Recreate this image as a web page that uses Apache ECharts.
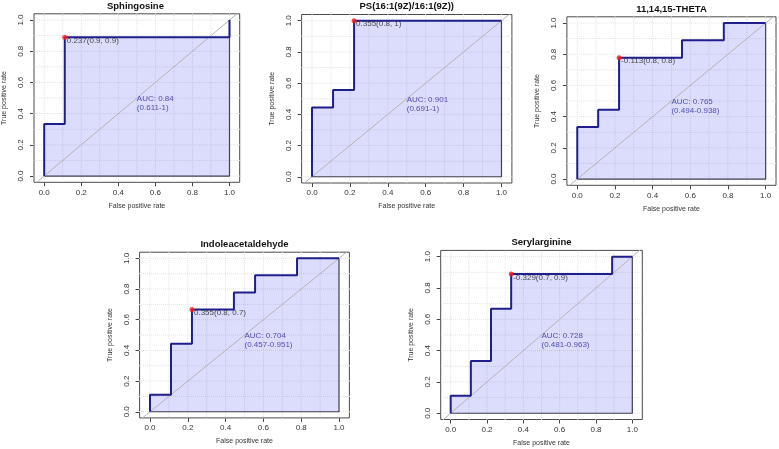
<!DOCTYPE html>
<html>
<head>
<meta charset="utf-8">
<script src="https://cdn.jsdelivr.net/npm/echarts@6/dist/echarts.min.js"></script>
<style>html,body{margin:0;padding:0;background:#fff}#c{width:779px;height:449px}</style>
</head>
<body>
<div id="c"></div>
<script>
// ---- data ----
const titles = ['Sphingosine', 'PS(16:1(9Z)/16:1(9Z))', '11,14,15-THETA', 'Indoleacetaldehyde', 'Serylarginine'];
const fpr1 = [0, 0, 0.111, 0.111, 1, 1];
const tpr1 = [0, 0.333, 0.333, 0.889, 0.889, 1];
const fpr2 = [0, 0, 0.111, 0.111, 0.222, 0.222, 1];
const tpr2 = [0, 0.444, 0.444, 0.556, 0.556, 1, 1];
const fpr3 = [0, 0, 0.111, 0.111, 0.222, 0.222, 0.556, 0.556, 0.778, 0.778, 1];
const tpr3 = [0, 0.333, 0.333, 0.444, 0.444, 0.778, 0.778, 0.889, 0.889, 1, 1];
const fpr4 = [0, 0, 0.111, 0.111, 0.222, 0.222, 0.444, 0.444, 0.556, 0.556, 0.778, 0.778, 1];
const tpr4 = [0, 0.111, 0.111, 0.444, 0.444, 0.667, 0.667, 0.778, 0.778, 0.889, 0.889, 1, 1];
const fpr5 = [0, 0, 0.111, 0.111, 0.222, 0.222, 0.333, 0.333, 0.889, 0.889, 1];
const tpr5 = [0, 0.111, 0.111, 0.333, 0.333, 0.667, 0.667, 0.889, 0.889, 1, 1];
const bestFpr = [0.111, 0.222, 0.222, 0.222, 0.333];
const bestTpr = [0.889, 1, 0.778, 0.667, 0.889];
const bestLabels = ['0.237(0.9, 0.9)', '0.355(0.8, 1)', '-0.113(0.8, 0.8)', '0.355(0.8, 0.7)', '-0.329(0.7, 0.9)'];
const aucLabels = ['AUC: 0.84', 'AUC: 0.901', 'AUC: 0.765', 'AUC: 0.704', 'AUC: 0.728'];
const ciLabels = ['(0.611-1)', '(0.691-1)', '(0.494-0.938)', '(0.457-0.951)', '(0.481-0.963)'];
const tickVals = [0, 0.2, 0.4, 0.6, 0.8, 1];
const gridVals = [0, 0.1, 0.2, 0.3, 0.4, 0.5, 0.6, 0.7, 0.8, 0.9, 1];
const xName = 'False positive rate';
const yName = 'True positive rate';

// ---- layout ----
const FONT = 'Liberation Sans, Arial, Helvetica, sans-serif';
const rects = [
  {left: 31.2, top: 13.8, width: 208.5, height: 168.5},
  {left: 301.6, top: 14.5, width: 210.3, height: 168.5},
  {left: 566.9, top: 16.8, width: 209.1, height: 168.5},
  {left: 139.6, top: 252.2, width: 209.8, height: 165.7},
  {left: 440.7, top: 250.4, width: 201.6, height: 169.1}
];
const XPAD = 0.055, YPAD = 0.04;
const fprs = [fpr1, fpr2, fpr3, fpr4, fpr5];
const tprs = [tpr1, tpr2, tpr3, tpr4, tpr5];

// grid line data with gaps between lines
const gridLineData = [];
gridVals.forEach(v => { gridLineData.push([v, -1], [v, 2], ['-', '-']); });
gridVals.forEach(v => { gridLineData.push([-1, v], [2, v], ['-', '-']); });

const grid = [], xAxis = [], yAxis = [], series = [], graphic = [];
rects.forEach((r, i) => {
  grid.push(Object.assign({show: true, borderColor: '#4a4a4a', borderWidth: 1, backgroundColor: 'transparent', containLabel: false}, r));
  const common = {
    gridIndex: i, type: 'value', nameLocation: 'middle',
    nameTextStyle: {fontSize: 7, color: '#333', fontFamily: FONT},
    axisLine: {show: false, onZero: false},
    axisTick: {show: true, customValues: tickVals, length: 4, lineStyle: {color: '#444', width: 1}},
    axisLabel: {customValues: tickVals, formatter: v => v.toFixed(1), fontSize: 8, color: '#333', fontFamily: FONT},
    splitLine: {show: false}
  };
  xAxis.push(Object.assign({}, common, {min: -XPAD, max: 1 + XPAD, name: xName, nameGap: 20, position: 'bottom',
    axisLabel: Object.assign({}, common.axisLabel, {margin: 6})}));
  yAxis.push(Object.assign({}, common, {min: -YPAD, max: 1 + YPAD, name: yName, nameGap: 26, nameRotate: 90, position: 'left',
    axisLabel: Object.assign({}, common.axisLabel, {margin: 9, rotate: 90})}));
  const pts = fprs[i].map((x, k) => [x, tprs[i][k]]);
  // grid lines
  series.push({type: 'line', xAxisIndex: i, yAxisIndex: i, data: gridLineData, z: 1, silent: true, symbol: 'none',
    clip: true, connectNulls: false, lineStyle: {color: '#e2e2e2', type: 'dotted', width: 1}});
  // filled area
  series.push({type: 'line', xAxisIndex: i, yAxisIndex: i, data: pts, symbol: 'none', z: 2, silent: true,
    lineStyle: {width: 0}, areaStyle: {color: 'rgba(60,60,240,0.18)', opacity: 1}});
  // polygon border (bottom and right edges)
  series.push({type: 'line', xAxisIndex: i, yAxisIndex: i, data: [[0, 0], [1, 0], [1, 1]], symbol: 'none', z: 3, silent: true,
    lineStyle: {color: '#404050', width: 1.2}});
  // diagonal
  series.push({type: 'line', xAxisIndex: i, yAxisIndex: i, data: [[-0.2, -0.2], [1.2, 1.2]], symbol: 'none', z: 3, clip: true, silent: true,
    lineStyle: {color: '#b4b4b4', width: 1}});
  // ROC curve
  series.push({type: 'line', xAxisIndex: i, yAxisIndex: i, data: pts, symbol: 'none', z: 4, silent: true,
    lineStyle: {color: '#1e1e8c', width: 2}});
  // best threshold point
  series.push({type: 'scatter', xAxisIndex: i, yAxisIndex: i, data: [[bestFpr[i], bestTpr[i]]], z: 5, symbolSize: 5, silent: true,
    itemStyle: {color: '#ff1a1a'},
    label: {show: true, formatter: bestLabels[i], position: [4.5, 2], align: 'left', verticalAlign: 'top',
      fontSize: 8, color: '#222', fontFamily: FONT}});
  // AUC text
  series.push({type: 'scatter', xAxisIndex: i, yAxisIndex: i, data: [[0.5, 0.465]], z: 5, symbolSize: 0, silent: true,
    label: {show: true, formatter: aucLabels[i] + '\n' + ciLabels[i], position: [0, 0], align: 'left', verticalAlign: 'middle',
      fontSize: 8, lineHeight: 8.5, color: '#2a2a9a', fontFamily: FONT}});
  graphic.push({type: 'text', x: r.left + r.width / 2, y: r.top - 7.7, silent: true,
    style: {text: titles[i], align: 'center', verticalAlign: 'middle', fontSize: 9.5, fontWeight: 'bold', fontFamily: FONT, fill: '#111'}});
});

const chart = echarts.init(document.getElementById('c'), null, {renderer: 'canvas'});
chart.setOption({animation: false, backgroundColor: '#fff', grid, xAxis, yAxis, series, graphic});
</script>
</body>
</html>
